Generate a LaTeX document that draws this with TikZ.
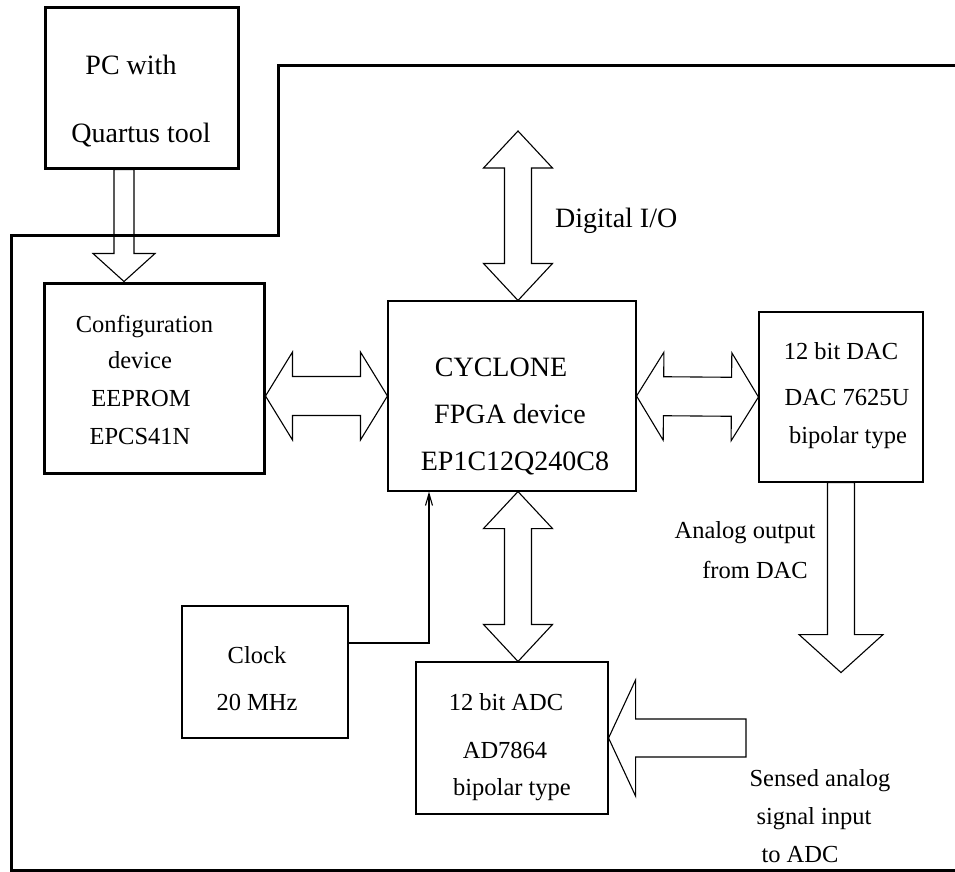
\documentclass[tikz,border=0pt]{standalone}
\usepackage{fontspec}
\setmainfont{Liberation Serif}
\usetikzlibrary{calc,arrows.meta}

\tikzset{
  box/.style={draw, line width=1.1pt, inner sep=0pt},
  thickbox/.style={draw, line width=3pt, inner sep=0pt},
  txt/.style={inner sep=0pt, anchor=base, font=\fontsize{24.5}{29}\selectfont},
  bigtxt/.style={txt, font=\fontsize{28}{33}\selectfont},
  hollow/.style={draw, line width=1.1pt, line join=miter},
}

% #1 tail, #2 tip, #3 half shaft, #4 half head, #5 head length
\newcommand{\singlearrow}[5]{%
  \coordinate (hb) at ($(#2)!#5pt!(#1)$);
  \draw[hollow] ($(#1)!#3pt!90:(#2)$) -- ($(hb)!#3pt!-90:(#1)$) -- ($(hb)!#4pt!-90:(#1)$) -- (#2)
    -- ($(hb)!#4pt!90:(#1)$) -- ($(hb)!#3pt!90:(#1)$) -- ($(#1)!#3pt!-90:(#2)$) -- cycle;
}
\newcommand{\doublearrow}[5]{%
  \coordinate (ha) at ($(#1)!#5pt!(#2)$);
  \coordinate (hb) at ($(#2)!#5pt!(#1)$);
  \draw[hollow] (#1) -- ($(ha)!#4pt!90:(#2)$) -- ($(ha)!#3pt!90:(#2)$) -- ($(hb)!#3pt!-90:(#1)$)
    -- ($(hb)!#4pt!-90:(#1)$) -- (#2) -- ($(hb)!#4pt!90:(#1)$) -- ($(hb)!#3pt!90:(#1)$)
    -- ($(ha)!#3pt!-90:(#2)$) -- ($(ha)!#4pt!-90:(#2)$) -- cycle;
}

\begin{document}
\begin{tikzpicture}[x=1pt, y=-1pt]
  \useasboundingbox (0,0) rectangle (955,871);

  \draw[line width=3pt] (955,65) -- (278,65) -- (278,235) -- (11,235) -- (11,870) -- (955,870);

  \node[thickbox, minimum width=193pt, minimum height=161pt] (pc) at (141.5,87.5) {};
  \node[thickbox, minimum width=220pt, minimum height=190pt] (cfg) at (154,378) {};
  \node[box, minimum width=248pt, minimum height=190pt] (fpga) at (512,396) {};
  \node[box, minimum width=164pt, minimum height=170pt] (dac) at (841,397) {};
  \node[box, minimum width=166pt, minimum height=132pt] (clk) at (265,672) {};
  \node[box, minimum width=192pt, minimum height=152pt] (adc) at (512,738) {};

  \node[bigtxt] (pc-a) at (131,74) {PC with};
  \node[bigtxt] (pc-b) at (141,142) {Quartus tool};
  \node[txt] (cfg-a) at (144.5,332) {Configuration};
  \node[txt] (cfg-b) at (140,368) {device};
  \node[txt] (cfg-c) at (141,406) {EEPROM};
  \node[txt] (cfg-d) at (140,444) {EPCS41N};
  \node[bigtxt] (fpga-a) at (501,376) {CYCLONE};
  \node[bigtxt] (fpga-b) at (510,423) {FPGA device};
  \node[bigtxt] (fpga-c) at (515,470) {EP1C12Q240C8};
  \node[txt] (dac-a) at (841,359) {12 bit DAC};
  \node[txt] (dac-b) at (847,405) {DAC 7625U};
  \node[txt] (dac-c) at (848,443) {bipolar type};
  \node[txt] (clk-a) at (257,663) {Clock};
  \node[txt] (clk-b) at (257,710) {20 MHz};
  \node[txt] (adc-a) at (506,710) {12 bit ADC};
  \node[txt] (adc-b) at (505,758) {AD7864};
  \node[txt] (adc-c) at (512,795) {bipolar type};
  \node[bigtxt, anchor=base west] (dio-l) at (555,227) {Digital I/O};
  \node[txt] (out-a) at (745,538) {Analog output};
  \node[txt] (out-b) at (755,578) {from DAC};
  \node[txt] (in-a) at (820,786) {Sensed analog};
  \node[txt] (in-b) at (814,824) {signal input};
  \node[txt] (in-c) at (800,862) {to ADC};

  \coordinate (pc-out) at ($(pc.south)+(-17.5,0)$);
  \coordinate (cfg-in) at ($(cfg.north)+(-30,0)$);
  \singlearrow{pc-out}{cfg-in}{10}{31}{28}

  \coordinate (dio) at (518,131);
  \coordinate (fpga-top) at ($(fpga.north)+(6,0)$);
  \doublearrow{dio}{fpga-top}{13.5}{34.5}{37}

  \coordinate (cfg-r) at (cfg.east |- fpga.west);
  \doublearrow{cfg-r}{fpga.west}{19.5}{44}{27}
  \doublearrow{fpga.east}{dac.west}{19.5}{44}{27}

  \coordinate (fpga-bot) at ($(fpga.south)+(6,0)$);
  \coordinate (adc-top) at ($(adc.north)+(6,0)$);
  \doublearrow{fpga-bot}{adc-top}{13.5}{34.5}{37}

  \coordinate (ana-out) at ($(dac.south)+(0,190)$);
  \singlearrow{dac.south}{ana-out}{13.5}{42}{38}

  \coordinate (ana-in) at (746,738);
  \singlearrow{ana-in}{adc.east}{19}{58}{27}

  \coordinate (clk-out) at ($(clk.east)+(0,-29)$);
  \coordinate (clk-in) at ($(fpga.south)+(-83,0)$);
  \draw[line width=1.1pt, -{Straight Barb[length=12pt,width=7pt]}] (clk-out) -| (clk-in);
\end{tikzpicture}
\end{document}
